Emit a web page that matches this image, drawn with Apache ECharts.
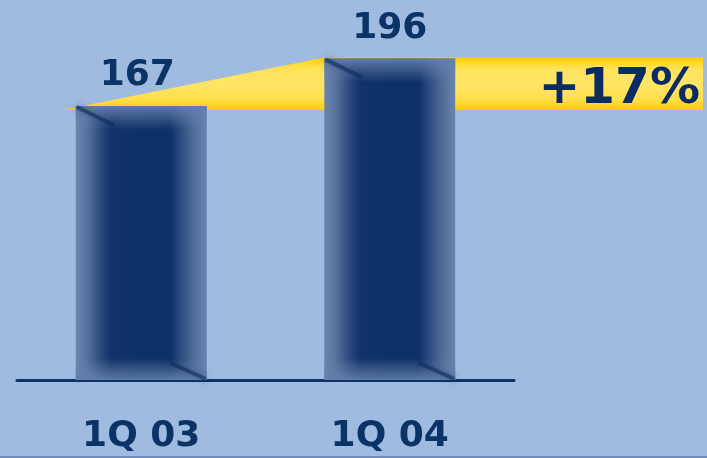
<!DOCTYPE html>
<html>
<head>
<meta charset="utf-8">
<title>1Q 03 vs 1Q 04</title>
<script src="https://cdn.jsdelivr.net/npm/echarts@6/dist/echarts.min.js"></script>
<style>
  html, body { margin: 0; padding: 0; background: #9FBBE0; }
  #chart { width: 707px; height: 458px; }
</style>
</head>
<body>
<div id="chart"></div>
<script>
// Quarterly totals
const categories = ['1Q 03', '1Q 04'];
const values = [167, 196];

const NAVY = '#0B3366';
const FONT = '"DejaVu Sans", Verdana, sans-serif';
const BAR_RATIO = 0.527;

const chart = echarts.init(document.getElementById('chart'), null, { renderer: 'canvas' });

// Soft-edged navy column with a light bevel on every side
function renderBar(params, api) {
  const idx = api.value(0);
  const val = api.value(1);
  const top = api.coord([idx, val]);
  const base = api.coord([idx, 0]);
  const w = api.size([1, 0])[0] * BAR_RATIO;
  const x = top[0] - w / 2;
  const y = top[1];
  const h = base[1] - top[1];
  const edge = '#6A86AE';
  return {
    type: 'group',
    children: [
      {
        type: 'rect',
        shape: { x: x, y: y, width: w, height: h },
        style: {
          fill: new echarts.graphic.LinearGradient(0, 0, 1, 0, [
            { offset: 0, color: edge },
            { offset: 0.09, color: '#56719C' },
            { offset: 0.19, color: '#2B4A7D' },
            { offset: 0.27, color: '#11326A' },
            { offset: 0.72, color: '#0D3068' },
            { offset: 0.80, color: '#2C4C80' },
            { offset: 0.90, color: '#4F6C98' },
            { offset: 1, color: edge }
          ])
        }
      },
      {
        type: 'rect',
        shape: { x: x, y: y, width: w, height: 24 },
        style: {
          fill: new echarts.graphic.LinearGradient(0, 0, 0, 1, [
            { offset: 0, color: 'rgba(100,128,170,0.95)' },
            { offset: 1, color: 'rgba(100,128,170,0)' }
          ])
        }
      },
      {
        type: 'rect',
        shape: { x: x, y: base[1] - 22, width: w, height: 22 },
        style: {
          fill: new echarts.graphic.LinearGradient(0, 0, 0, 1, [
            { offset: 0, color: 'rgba(100,128,170,0)' },
            { offset: 1, color: 'rgba(100,128,170,0.9)' }
          ])
        }
      },
      {
        type: 'line',
        shape: { x1: x + 1, y1: y + 1, x2: x + 38, y2: y + 19 },
        style: { stroke: 'rgba(12,42,94,0.6)', lineWidth: 4, shadowBlur: 7, shadowColor: 'rgba(12,42,94,0.8)' }
      },
      {
        type: 'line',
        shape: { x1: x + w - 1, y1: base[1] - 1, x2: x + w - 36, y2: base[1] - 17 },
        style: { stroke: 'rgba(12,42,94,0.6)', lineWidth: 4, shadowBlur: 7, shadowColor: 'rgba(12,42,94,0.8)' }
      },
      {
        type: 'text',
        style: {
          text: String(val),
          x: top[0] - (idx === 0 ? 4 : 0),
          y: y - 12,
          align: 'center',
          verticalAlign: 'bottom',
          font: 'bold 36px ' + FONT,
          fill: NAVY
        }
      }
    ]
  };
}

// Yellow growth ribbon rising from the first column to the second
function renderGrowth(params, api) {
  const a = api.coord([0, values[0]]);
  const b = api.coord([1, values[1]]);
  const w = api.size([1, 0])[0] * BAR_RATIO;
  const leftX = a[0] - w / 2 - 13;
  const bottom = a[1] + 4;
  const riseX = b[0] - w / 2;
  const topY = b[1] - 1;
  const rightX = api.getWidth() - 4;
  const pct = Math.round((values[1] / values[0] - 1) * 100);
  return {
    type: 'group',
    children: [
      {
        type: 'polygon',
        shape: { points: [[leftX, bottom], [riseX, topY], [rightX, topY], [rightX, bottom]] },
        style: {
          fill: new echarts.graphic.LinearGradient(0, topY, 0, bottom, [
            { offset: 0, color: '#FFD000' },
            { offset: 0.22, color: '#FFE25A' },
            { offset: 0.5, color: '#FFE566' },
            { offset: 0.8, color: '#FFDF4C' },
            { offset: 1, color: '#FFCC00' }
          ], true)
        }
      },
      {
        type: 'text',
        style: {
          text: '+' + pct + '%',
          x: rightX - 3,
          y: (topY + bottom) / 2 + 6,
          align: 'right',
          verticalAlign: 'middle',
          font: 'bold 50px ' + FONT,
          fill: '#0A2C62'
        }
      }
    ]
  };
}

const option = {
  backgroundColor: '#9FBBE0',
  animation: false,
  grid: { left: 17, right: 193, top: 19, bottom: 78 },
  xAxis: {
    type: 'category',
    data: categories,
    axisLine: { lineStyle: { color: NAVY, width: 3 } },
    axisTick: { show: false },
    axisLabel: {
      margin: 39,
      color: NAVY,
      fontFamily: FONT,
      fontWeight: 'bold',
      fontSize: 36
    }
  },
  yAxis: {
    type: 'value',
    min: 0,
    max: 220,
    show: false,
    splitLine: { show: false }
  },
  series: [
    {
      type: 'custom',
      z: 1,
      renderItem: renderGrowth,
      data: [[0, values[0]]],
      silent: true
    },
    {
      type: 'custom',
      z: 2,
      renderItem: renderBar,
      data: values.map((v, i) => [i, v])
    }
  ],
  graphic: [
    {
      type: 'rect',
      left: 0,
      bottom: 0,
      shape: { width: 707, height: 2 },
      style: { fill: '#6E8DBE' }
    }
  ]
};

chart.setOption(option);
</script>
</body>
</html>
